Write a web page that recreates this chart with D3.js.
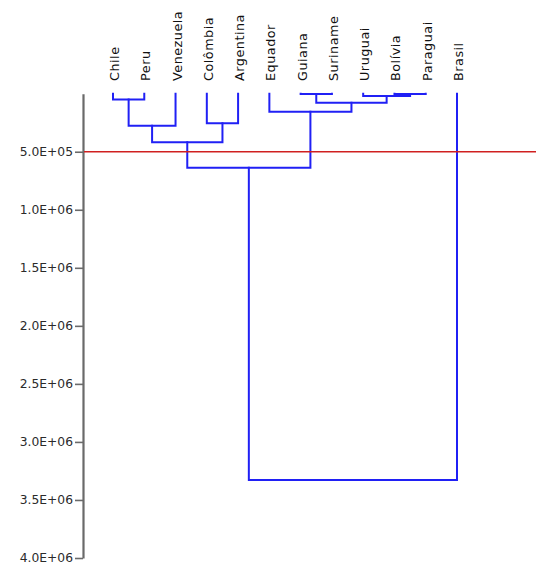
<!DOCTYPE html>
<html>
<head>
<meta charset="utf-8">
<script src="https://cdn.jsdelivr.net/npm/d3@7"></script>
<style>
  html, body { margin: 0; padding: 0; background: #fff; }
  svg { display: block; }
</style>
</head>
<body>
<svg id="chart" width="536" height="569"></svg>
<script>
// Leaves, left to right
const leaves = ["Chile", "Peru", "Venezuela", "Colômbia", "Argentina", "Equador",
                "Guiana", "Suriname", "Uruguai", "Bolívia", "Paraguai", "Brasil"];
// Merges: [childA, childB, height]; indices < 12 are leaves, 12+ are earlier merges
const merges = [
  [0, 1, 50000],       // 12 Chile-Peru
  [12, 2, 276000],     // 13 +Venezuela
  [3, 4, 255000],      // 14 Colômbia-Argentina
  [13, 14, 419000],    // 15
  [6, 7, 3000],        // 16 Guiana-Suriname
  [9, 10, 3000],       // 17 Bolívia-Paraguai
  [8, 17, 20000],      // 18 Uruguai + 17
  [16, 18, 78000],     // 19
  [5, 19, 155000],     // 20 Equador + 19
  [15, 20, 637000],    // 21
  [21, 11, 3327000]    // 22 root + Brasil
];
const yTicks = [500000, 1000000, 1500000, 2000000, 2500000, 3000000, 3500000, 4000000];
const yTickLabels = ["5.0E+05", "1.0E+06", "1.5E+06", "2.0E+06", "2.5E+06", "3.0E+06", "3.5E+06", "4.0E+06"];
const cutHeight = 500000;

const svg = d3.select("#chart");
const W = 536;

const x = d3.scalePoint().domain(leaves).range([113, 457]);
const y = d3.scaleLinear().domain([0, 4000000]).range([93.7, 558]);

// build nodes
const nodes = leaves.map(name => ({ name, x: x(name), h: 0 }));
merges.forEach(([a, b, h]) => {
  nodes.push({ children: [nodes[a], nodes[b]], h, x: (nodes[a].x + nodes[b].x) / 2 });
});
const root = d3.hierarchy(nodes[nodes.length - 1], d => d.children);

// axis
const axis = d3.axisLeft(y).tickValues(yTicks)
  .tickFormat((d, i) => yTickLabels[i]).tickSize(8).tickSizeOuter(0).tickPadding(2);
const gAxis = svg.append("g").attr("transform", "translate(83,0)").call(axis);
gAxis.select(".domain").attr("stroke", "#6a6a6a").attr("stroke-width", 2.2);
gAxis.selectAll(".tick line").attr("stroke", "#6a6a6a").attr("stroke-width", 1.6);
gAxis.selectAll(".tick text").attr("fill", "#2a2a2a").style("font-family", "DejaVu Sans, sans-serif")
  .style("font-size", "12.3px");

// links
const blue = "#2020f5";
const g = svg.append("g").attr("fill", "none").attr("stroke", blue)
  .attr("stroke-width", 2).attr("stroke-linecap", "square");
root.descendants().filter(d => d.children).forEach(d => {
  const py = y(d.data.h);
  const [c1, c2] = d.children;
  g.append("path").attr("d",
    `M${c1.data.x},${y(c1.data.h)}V${py}H${c2.data.x}V${y(c2.data.h)}`);
});

// cut line
svg.append("line").attr("x1", 84).attr("x2", W).attr("y1", y(cutHeight)).attr("y2", y(cutHeight))
  .attr("stroke", "#d02020").attr("stroke-width", 1.3);

// leaf labels
svg.append("g").selectAll("text").data(leaves).join("text")
  .attr("transform", d => `translate(${x(d) + 6},81) rotate(-90)`)
  .attr("text-anchor", "start")
  .attr("fill", "#111")
  .style("font-family", "DejaVu Sans, sans-serif")
  .style("font-size", "12.8px")
  .style("letter-spacing", "0.5px")
  .text(d => d);
</script>
</body>
</html>
